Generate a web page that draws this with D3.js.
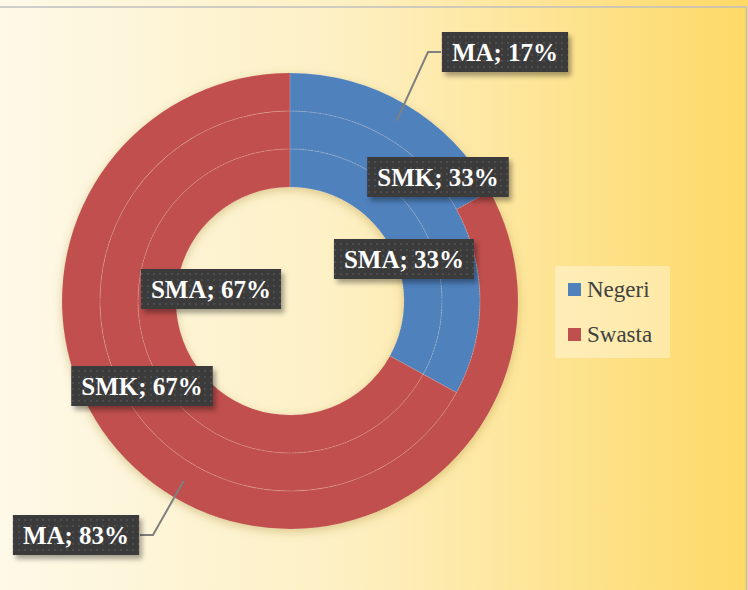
<!DOCTYPE html>
<html>
<head>
<meta charset="utf-8">
<script src="https://cdn.jsdelivr.net/npm/d3@7"></script>
<style>
  html, body { margin: 0; padding: 0; background: #fff; }
  svg { display: block; }
</style>
</head>
<body>
<div id="chart"></div>
<script>
// dados: anel de dentro para fora
const rings = ["SMA", "SMK", "MA"];
const series = ["Negeri", "Swasta"];
const negeri = [33, 33, 17];
const swasta = [67, 67, 83];
const colors = ["#4f81bd", "#c0504d"];

// posição dos rótulos (deslocamento a partir do centro)
const labelOffsets = [
  [[114, -42], [-79, -12]],   // SMA
  [[148, -124], [-148, 85]],  // SMK
  [[215, -249], [-214, 234]]  // MA
];

const W = 748, H = 590;
const cx = 290, cy = 301;
const radii = [114, 152, 190, 228];

const svg = d3.select("#chart").append("svg")
  .attr("width", W)
  .attr("height", H);

const defs = svg.append("defs");

// fundo em degradê
const grad = defs.append("linearGradient")
  .attr("id", "bg")
  .attr("x1", "0%").attr("x2", "100%").attr("y1", "0%").attr("y2", "0%");
grad.append("stop").attr("offset", "0%").attr("stop-color", "#fef9e8");
grad.append("stop").attr("offset", "45%").attr("stop-color", "#fdf0c4");
grad.append("stop").attr("offset", "100%").attr("stop-color", "#fed967");

// sombra dos rótulos
const shadow = defs.append("filter").attr("id", "shadow")
  .attr("x", "-20%").attr("y", "-30%").attr("width", "150%").attr("height", "180%");
shadow.append("feDropShadow")
  .attr("dx", 3).attr("dy", 4).attr("stdDeviation", 2.5)
  .attr("flood-color", "#000").attr("flood-opacity", 0.35);

// sombra do anel
const ringShadow = defs.append("filter").attr("id", "ringShadow")
  .attr("x", "-20%").attr("y", "-20%").attr("width", "140%").attr("height", "140%");
ringShadow.append("feDropShadow")
  .attr("dx", 0).attr("dy", 3).attr("stdDeviation", 5)
  .attr("flood-color", "#8a6a00").attr("flood-opacity", 0.3);

// textura pontilhada dos rótulos
const pat = defs.append("pattern")
  .attr("id", "dots")
  .attr("width", 6).attr("height", 6)
  .attr("patternUnits", "userSpaceOnUse");
pat.append("rect").attr("width", 6).attr("height", 6).attr("fill", "#3b3b3b");
pat.append("circle").attr("cx", 3).attr("cy", 3).attr("r", 0.9).attr("fill", "#555");

svg.append("rect")
  .attr("width", W).attr("height", H)
  .attr("fill", "url(#bg)");

// borda da área do gráfico
svg.append("rect")
  .attr("x", -5).attr("y", 7)
  .attr("width", 751.5).attr("height", H + 10)
  .attr("fill", "none")
  .attr("stroke", "#bfbfbf")
  .attr("stroke-width", 1.5);

const g = svg.append("g")
  .attr("transform", `translate(${cx},${cy})`);

const pie = d3.pie().sort(null).value(d => d.value);

const ringData = rings.map((name, i) => ({
  name,
  slices: pie([
    { series: series[0], value: negeri[i] },
    { series: series[1], value: swasta[i] }
  ]),
  arc: d3.arc().innerRadius(radii[i]).outerRadius(radii[i + 1])
}));

const donut = g.append("g").attr("filter", "url(#ringShadow)");

ringData.forEach(r => {
  donut.selectAll(null)
    .data(r.slices)
    .enter()
    .append("path")
    .attr("d", r.arc)
    .attr("fill", (d, j) => colors[j]);
});

// linhas finas entre os anéis
ringData.forEach(r => {
  g.selectAll(null)
    .data(r.slices)
    .enter()
    .append("path")
    .attr("d", r.arc)
    .attr("fill", "none")
    .attr("stroke", "rgba(255,255,255,0.2)")
    .attr("stroke-width", 0.8)
    .attr("stroke-dasharray", "2,1");
});

// rótulos
ringData.forEach((r, i) => {
  r.slices.forEach((s, j) => {
    const [ox, oy] = labelOffsets[i][j];
    const text = `${r.name}; ${s.data.value}%`;

    // linha guia só para o anel externo
    if (i === rings.length - 1) {
      const c = r.arc.centroid(s);
      const side = ox > 0 ? -1 : 1;
      const edgeX = ox + side * 64;
      const elbowX = edgeX + side * 13;
      g.append("polyline")
        .attr("points", `${c[0]},${c[1]} ${elbowX},${oy} ${edgeX},${oy}`)
        .attr("fill", "none")
        .attr("stroke", "#7f7f7f")
        .attr("stroke-width", 2);
    }

    const lab = g.append("g")
      .attr("transform", `translate(${ox},${oy})`);
    const rect = lab.append("rect")
      .attr("fill", "url(#dots)")
      .attr("filter", "url(#shadow)");
    const t = lab.append("text")
      .attr("text-anchor", "middle")
      .attr("y", 9)
      .style("font-family", "'Liberation Serif', 'DejaVu Serif', serif")
      .style("font-weight", "bold")
      .style("font-size", "25px")
      .attr("fill", "#ffffff")
      .text(text);
    const w = t.node().getComputedTextLength() + 20;
    rect.attr("x", -w / 2).attr("y", -20)
      .attr("width", w).attr("height", 40);
  });
});

// legenda
const legend = svg.append("g")
  .attr("transform", "translate(555,266)");

legend.append("rect")
  .attr("width", 115).attr("height", 92)
  .attr("fill", "rgba(255,255,255,0.35)");

series.forEach((s, i) => {
  const row = legend.append("g")
    .attr("transform", `translate(13,${17 + i * 45})`);
  row.append("rect")
    .attr("width", 13).attr("height", 13)
    .attr("fill", colors[i]);
  row.append("text")
    .attr("x", 19).attr("y", 14)
    .style("font-family", "'Liberation Serif', 'DejaVu Serif', serif")
    .style("font-size", "23px")
    .attr("fill", "#404040")
    .text(s);
});
</script>
</body>
</html>
